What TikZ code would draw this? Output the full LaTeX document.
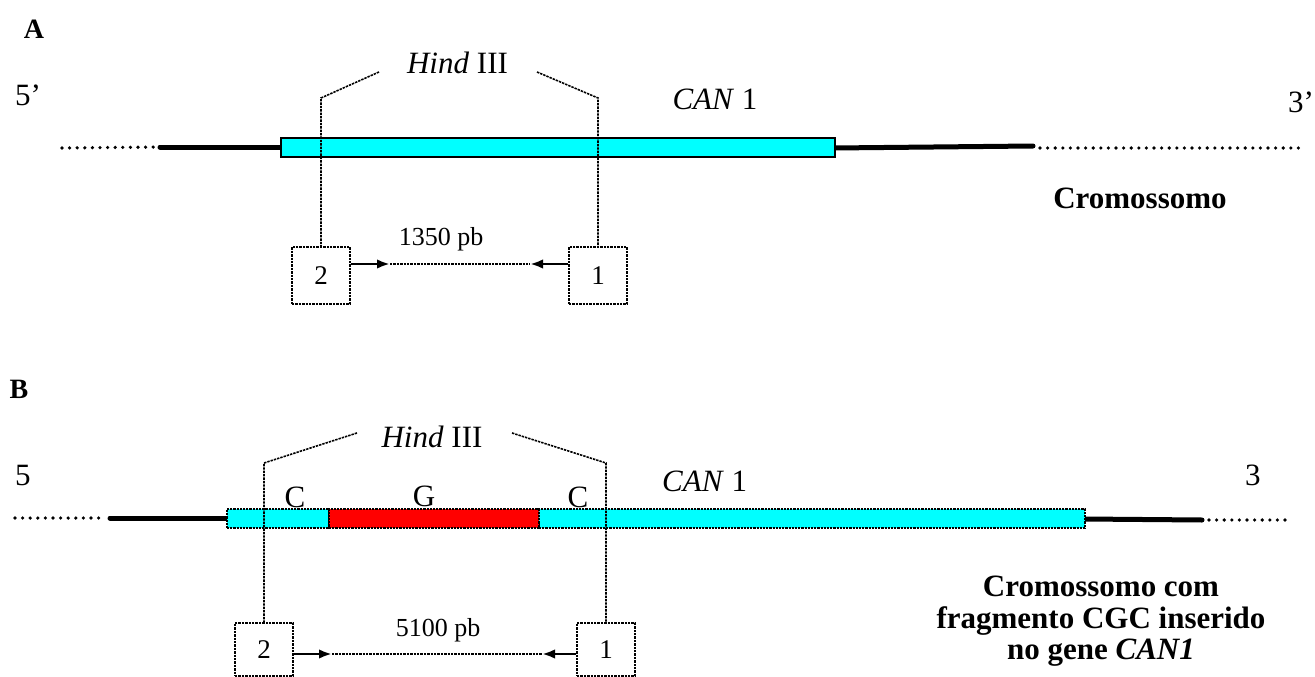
\documentclass[tikz,border=0pt]{standalone}
\usepackage{fontspec}
\setmainfont{Liberation Serif}
\usetikzlibrary{arrows.meta,calc}
\definecolor{genecyan}{RGB}{0,255,255}
\definecolor{insertred}{RGB}{255,0,0}
\newcommand\txtbig{\fontsize{31}{31.5}\selectfont}
\newcommand\txtmid{\fontsize{26}{30}\selectfont}
\newcommand\txtbox{\fontsize{27}{30}\selectfont}
\newcommand\txtpanel{\fontsize{28}{30}\selectfont\bfseries}
\tikzset{
  lbl/.style={inner sep=0pt, font=\txtbig},
  panel/.style={inner sep=0pt, font=\txtpanel, anchor=base},
  genebar/.style={draw=black, line width=1.3pt, fill=genecyan, minimum height=19pt, inner sep=0pt},
  genebarB/.style={genebar, dash pattern=on 2.2pt off 1pt},
  insertbar/.style={genebarB, fill=insertred},
  flank/.style={line width=5pt, line cap=round},
  chromodots/.style={line width=3.6pt, line cap=round, dash pattern=on 0pt off 7.6pt},
  cutline/.style={line width=1.6pt, dash pattern=on 2.4pt off 1pt},
  primerbox/.style={draw, line width=1.6pt, dash pattern=on 2.4pt off 1pt, minimum width=58pt, minimum height=57pt, inner sep=0pt, font=\txtbox},
  primer/.style={line width=2.8pt, -{Latex[length=13pt,width=9.5pt]}},
  ampspan/.style={line width=1.4pt, dash pattern=on 2.4pt off 1pt},
}
\begin{document}
\begin{tikzpicture}[x=1pt,y=-1pt]
\useasboundingbox (0,0) rectangle (1315,677);

% ---------------- Panel A: wild-type chromosome ----------------
\node[panel] (pA) at (34,39) {A};
\node[lbl, anchor=base west] (fiveA) at (15,105) {5’};
\node[lbl, anchor=base west] (threeA) at (1288,112) {3’};
\node[lbl, anchor=base] (canA) at (715,110) {\textit{CAN} 1};
\node[lbl, anchor=base] (hindA) at (457.5,74) {\textit{Hind} III};
\node[lbl, font=\txtbig\bfseries, anchor=base] (chromA) at (1140,208) {Cromossomo};

% chromosome with the CAN1 gene
\coordinate (dA0) at (62,148);
\coordinate (tA0) at (160,147);
\coordinate (tA1) at (1033,146);
\coordinate (dA1) at (1305,148);
\draw[chromodots] (dA0) -- (tA0);
\draw[flank] (tA0) -- (282,147);
\draw[flank] (834,148) -- (tA1);
\draw[chromodots] ($(tA1)+(7,2)$) -- (dA1);
\node[genebar, minimum width=554pt] (barA) at (558,147.5) {};

% primers and amplified fragment
\node[primerbox] (pA2) at (321,275.5) {2};
\node[primerbox] (pA1) at (598,275.5) {1};
\coordinate (sA1) at (379,72);
\coordinate (kA1) at (321,98);
\coordinate (sA2) at (537,72);
\coordinate (kA2) at (598,98);
\draw[cutline] (sA1) -- (kA1) -- (pA2);
\draw[cutline] (sA2) -- (kA2) -- (pA1);
\coordinate (hA2) at (390,264);
\coordinate (hA1) at (530,264);
\draw[ampspan] (hA2) -- (hA1);
\draw[primer] (pA2.east |- hA2) -- (hA2);
\draw[primer] (pA1.west |- hA1) -- (hA1);
\node[inner sep=0pt, font=\txtmid, anchor=base] (lenA) at (441,245) {1350 pb};

% ---------------- Panel B: chromosome with CGC insert ----------------
\node[panel] (pB) at (19,398) {B};
\node[lbl, anchor=base west] (fiveB) at (15,485) {5};
\node[lbl, anchor=base west] (threeB) at (1245,485) {3};
\node[lbl, anchor=base west] (canB) at (662,491) {\textit{CAN} 1};
\node[lbl, anchor=base] (hindB) at (432,447) {\textit{Hind} III};
\node[lbl, anchor=base] (cL) at (295,507) {C};
\node[lbl, anchor=base] (gM) at (424,506) {G};
\node[lbl, anchor=base] (cR) at (578,507) {C};
\node[lbl, font=\txtbig\bfseries, align=center] (chromB) at (1101,621.5)
  {Cromossomo com\\fragmento CGC inserido\\no gene \textit{CAN1}};

\coordinate (dB0) at (15,518);
\coordinate (tB0) at (110,518);
\coordinate (tB1) at (1202,520);
\coordinate (dB1) at (1290,520);
\draw[chromodots] (dB0) -- ($(tB0)+(-6,0)$);
\draw[flank] (tB0) -- (228,518);
\draw[flank] (1084,519) -- (tB1);
\draw[chromodots] ($(tB1)+(7,0)$) -- (dB1);
\node[genebarB, minimum width=102pt] (barB1) at (278,518.5) {};
\node[genebarB, minimum width=546pt] (barB3) at (812,518.5) {};
\node[insertbar, minimum width=210pt] (barB2) at (434,518.5) {};

\node[primerbox, minimum height=53pt] (pB2) at (264,649.5) {2};
\node[primerbox, minimum height=53pt] (pB1) at (606,649.5) {1};
\coordinate (sB1) at (357,433);
\coordinate (kB1) at (264,463);
\coordinate (sB2) at (512,433);
\coordinate (kB2) at (606,463);
\draw[cutline] (sB1) -- (kB1) -- (pB2);
\draw[cutline] (sB2) -- (kB2) -- (pB1);
\coordinate (hB2) at (332,654);
\coordinate (hB1) at (542,654);
\draw[ampspan] (hB2) -- (hB1);
\draw[primer] (pB2.east |- hB2) -- (hB2);
\draw[primer] (pB1.west |- hB1) -- (hB1);
\node[inner sep=0pt, font=\txtmid, anchor=base] (lenB) at (438,636) {5100 pb};
\end{tikzpicture}
\end{document}
